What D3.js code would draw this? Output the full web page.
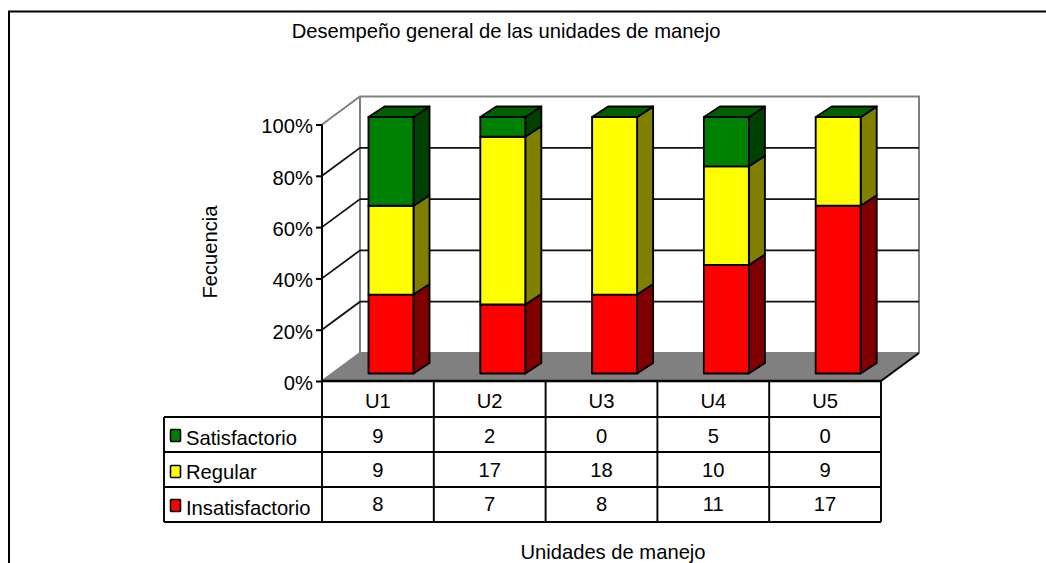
<!DOCTYPE html>
<html><head><meta charset="utf-8">
<script src="https://d3js.org/d3.v7.min.js"></script>
<style>html,body{margin:0;padding:0;background:#fff}svg{display:block}text{font-family:"Liberation Sans",Arial,sans-serif;font-size:20.2px;fill:#000}</style>
</head><body><svg id="c" width="1046" height="563"></svg>
<script>
const categories=["U1","U2","U3","U4","U5"];
const seriesNames=["Insatisfactorio","Regular","Satisfactorio"];
const insatisfactorio=[8,7,8,11,17];
const regular=[9,17,18,10,9];
const satisfactorio=[9,2,0,5,0];
const yTicks=[0,0.2,0.4,0.6,0.8,1];
const titleText="Desempeño general de las unidades de manejo";
const yTitle="Fecuencia";
const xTitle="Unidades de manejo";

const seriesValues=[insatisfactorio,regular,satisfactorio];
const fronts=["#ff0000","#ffff00","#008000"];
const sides=["#800000","#808000","#004000"];
const topFace="#006000";
const rows=categories.map((c,i)=>({c,Insatisfactorio:insatisfactorio[i],Regular:regular[i],Satisfactorio:satisfactorio[i]}));
const stacked=d3.stack().keys(seriesNames).offset(d3.stackOffsetExpand)(rows);

const svg=d3.select("#c");
const L=322,R=881,Y0=381,Y1=124.5,DX=38,DY=28;
const x=d3.scaleBand().domain(categories).range([L,R]);
const y=d3.scaleLinear().domain([0,1]).range([Y0,Y1]);
const barDX=46.5,barW=45,barDY=7.5,sdx=16,sdy=10.5;
const by=d=>y(d)-barDY;
const poly=p=>p.map(q=>q.join(",")).join(" ");

// frame
svg.append("path").attr("d","M1046,11.5H9V563").attr("fill","none").attr("stroke","#000").attr("stroke-width",2);

// walls
svg.append("polygon").attr("points",poly([[L,Y0],[L+DX,Y0-DY],[R+DX,Y0-DY],[R,Y0]])).attr("fill","#808080");
svg.append("path").attr("d",`M${L},${Y1}L${L+DX},${Y1-DY}H${R+DX}V${Y0-DY}M${L+DX},${Y1-DY}V${Y0-DY}H${R+DX}M${L},${Y0}L${L+DX},${Y0-DY}`)
  .attr("fill","none").attr("stroke","#808080").attr("stroke-width",2);
// grid
const grid=svg.append("g");
yTicks.filter(t=>t>0&&t<1).forEach(t=>{
  grid.append("path").attr("d",`M${L},${y(t)}L${L+DX},${y(t)-DY}H${R+DX}`)
    .attr("fill","none").attr("stroke","#111").attr("stroke-width",1.8);
});
// right floor edge
svg.append("path").attr("d",`M${R},${Y0}L${R+DX},${Y0-DY}`).attr("stroke","#000").attr("stroke-width",2);

// bars
stacked.forEach((s,si)=>{
  const g=svg.append("g").attr("stroke","#000").attr("stroke-width",1.9).attr("stroke-linejoin","round");
  s.forEach((d,i)=>{
    const x0=x(categories[i])+barDX,x1=x0+barW,t=by(d[1]),b=by(d[0]);
    g.append("polygon").attr("points",poly([[x1,t],[x1+sdx,t-sdy],[x1+sdx,b-sdy],[x1,b]])).attr("fill",sides[si]);
    g.append("rect").attr("x",x0).attr("y",t).attr("width",barW).attr("height",b-t).attr("fill",fronts[si]);
    if(si===2) g.append("polygon").attr("points",poly([[x0,t],[x0+sdx,t-sdy],[x1+sdx,t-sdy],[x1,t]])).attr("fill",topFace);
  });
});

// y axis
const ax=svg.append("g").attr("transform",`translate(${L},0)`)
  .call(d3.axisLeft(y).tickValues(yTicks).tickFormat(d3.format(".0%")).tickSize(6).tickPadding(3));
ax.selectAll("path,line").attr("stroke","#000").attr("stroke-width",2);
ax.select(".domain").attr("d",`M0,${Y1}V${Y0}`);
ax.selectAll("text").style("font-size","20.2px").attr("font-family",null).attr("dy","0.42em");

// table
const T=[381,417,452,487,522],LX=164;
const t=svg.append("g").attr("stroke","#000").attr("stroke-width",1.9);
t.append("line").attr("x1",L).attr("x2",R).attr("y1",T[0]).attr("y2",T[0]).attr("stroke-width",2.4);
T.slice(1).forEach(v=>t.append("line").attr("x1",LX).attr("x2",R).attr("y1",v).attr("y2",v));
t.append("line").attr("x1",LX).attr("x2",LX).attr("y1",T[1]).attr("y2",T[4]);
x.domain().concat([null]).forEach(c=>{
  const p=c?x(c):R;
  t.append("line").attr("x1",p).attr("x2",p).attr("y1",T[0]).attr("y2",T[4]);
});
const cx=c=>x(c)+x.bandwidth()/2;
categories.forEach(c=>svg.append("text").attr("x",cx(c)).attr("y",408).attr("text-anchor","middle").text(c));
const rowOrder=[2,1,0],rowBase=[443,477,511],nameBase=[445,479,515],swY=[429.5,465.5,499.5];
rowOrder.forEach((si,r)=>{
  svg.append("rect").attr("x",170.5).attr("y",swY[r]).attr("width",10).attr("height",12).attr("rx",1).attr("fill",fronts[si]).attr("stroke","#000").attr("stroke-width",1.6);
  svg.append("text").attr("x",186).attr("y",nameBase[r]).text(seriesNames[si]);
  categories.forEach((c,i)=>svg.append("text").attr("x",cx(c)).attr("y",rowBase[r]).attr("text-anchor","middle").text(seriesValues[si][i]));
});

// titles
svg.append("text").attr("x",506).attr("y",38).attr("text-anchor","middle").text(titleText);
svg.append("text").attr("transform","translate(217,252) rotate(-90)").attr("text-anchor","middle").text(yTitle);
svg.append("text").attr("x",613).attr("y",559).attr("text-anchor","middle").text(xTitle);
</script></body></html>
